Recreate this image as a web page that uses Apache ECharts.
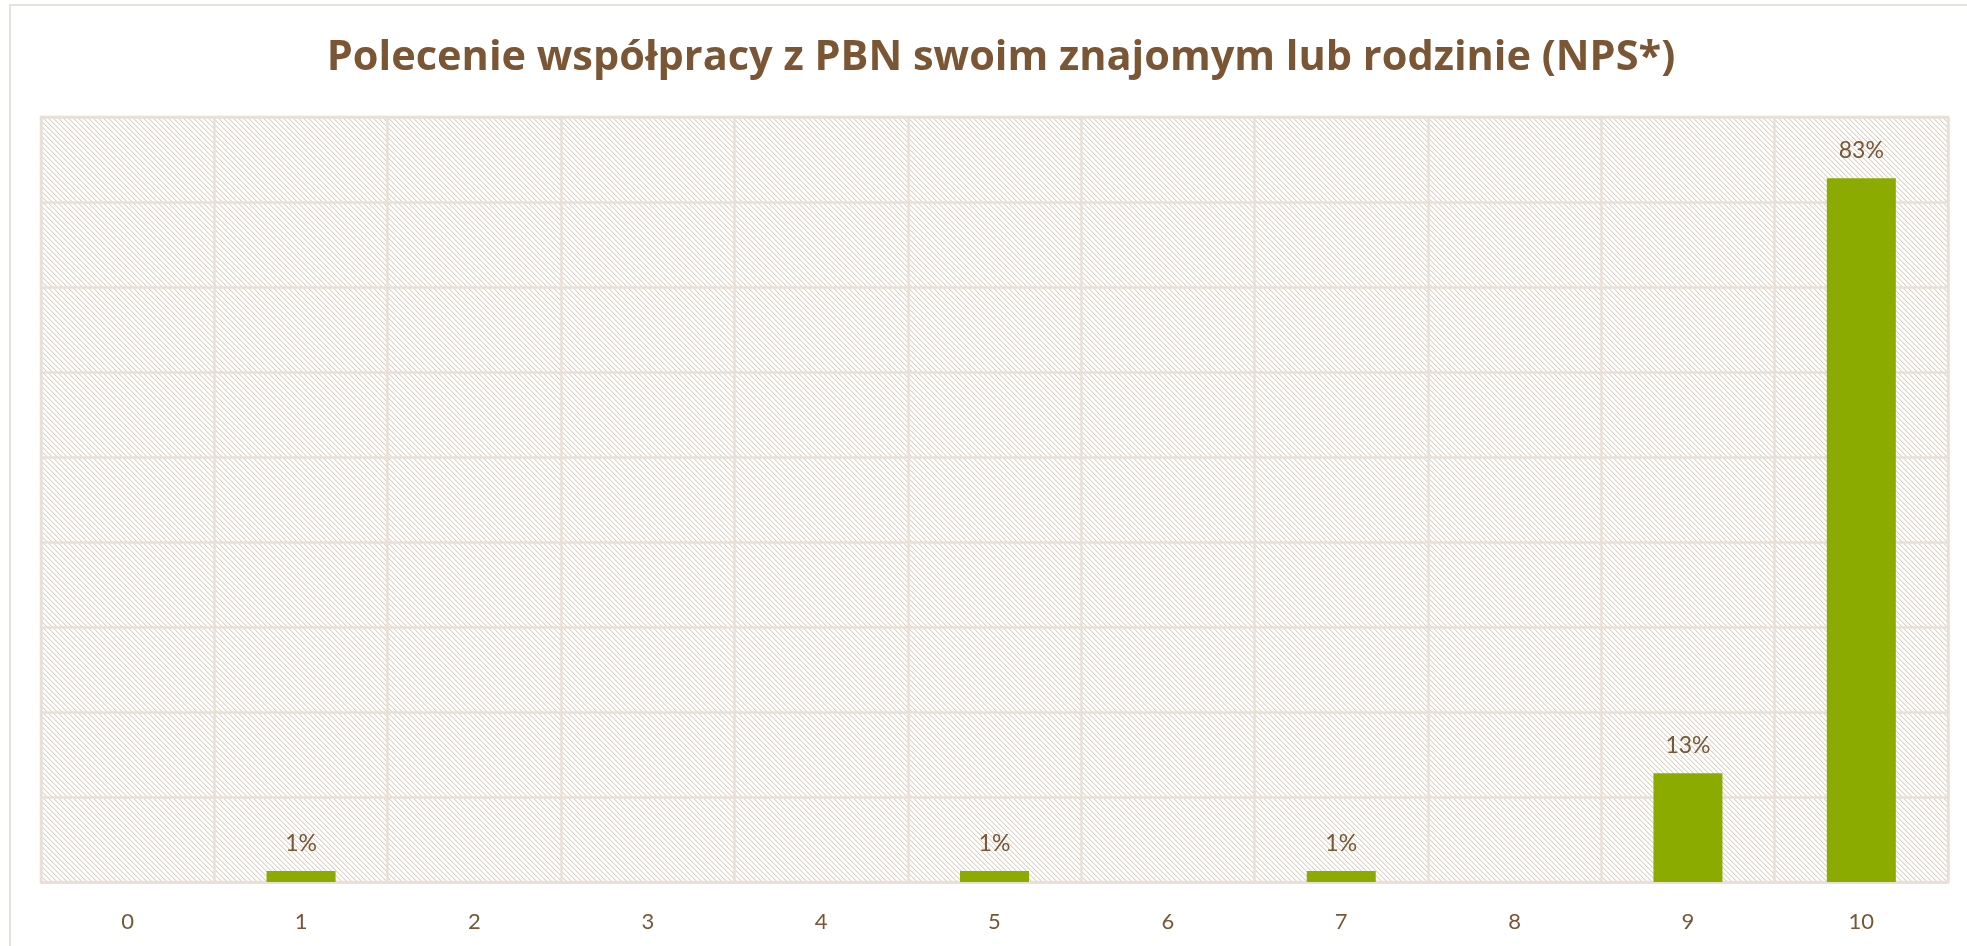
<!DOCTYPE html>
<html>
<head>
<meta charset="utf-8">
<script src="https://cdn.jsdelivr.net/npm/echarts@6/dist/echarts.min.js"></script>
<style>
  html, body { margin: 0; padding: 0; background: #fff; }
  #main { width: 1967px; height: 946px; }
</style>
</head>
<body>
<div id="main"></div>
<script>
// oceny 0-10 i procent odpowiedzi
const categories = ['0', '1', '2', '3', '4', '5', '6', '7', '8', '9', '10']
const values = [0, 1.3, 0, 0, 0, 1.3, 0, 1.3, 0, 12.8, 82.8]
const labels = ['', '1%', '', '', '', '1%', '', '1%', '', '13%', '83%']

const brown = '#7a5634'
const green = '#8cab00'
const gridLine = '#e8e0d7'

// tlo w ukosne paski
function makeHatch() {
  const n = 5
  const c = document.createElement('canvas')
  c.width = n
  c.height = n
  const ctx = c.getContext('2d')
  ctx.fillStyle = '#ffffff'
  ctx.fillRect(0, 0, n, n)
  for (let i = 0; i < n; i++) {
    ctx.fillStyle = '#ddd4c9'
    ctx.fillRect(i, i, 1, 1)
    ctx.fillStyle = '#f1ece6'
    ctx.fillRect((i + 1) % n, i, 1, 1)
  }
  return c
}

const chart = echarts.init(document.getElementById('main'), null, { renderer: 'canvas' })

const option = {
  backgroundColor: '#ffffff',
  animation: false,
  title: {
    text: 'Polecenie współpracy z PBN swoim znajomym lub rodzinie (NPS*)',
    left: 996,
    textAlign: 'center',
    top: 32,
    textStyle: {
      fontFamily: 'Open Sans',
      fontWeight: 'bold',
      fontSize: 41.5,
      color: brown
    }
  },
  graphic: [{
    type: 'rect',
    shape: { x: 10, y: 5, width: 1980, height: 960 },
    style: { fill: 'none', stroke: '#e8e2da', lineWidth: 2 },
    silent: true,
    z: -1
  }],
  grid: {
    left: 41,
    right: 19,
    top: 117,
    bottom: 64,
    show: true,
    backgroundColor: { image: makeHatch(), repeat: 'repeat' },
    borderColor: gridLine,
    borderWidth: 2.5
  },
  xAxis: {
    type: 'category',
    data: categories,
    axisLine: { show: true, lineStyle: { color: gridLine, width: 2.5 } },
    axisTick: { show: false },
    splitLine: { show: true, lineStyle: { color: gridLine, width: 2.5 } },
    axisLabel: {
      margin: 29,
      fontFamily: 'Lato',
      fontSize: 22,
      color: brown
    }
  },
  yAxis: {
    type: 'value',
    min: 0,
    max: 90,
    interval: 10,
    axisLabel: { show: false },
    axisLine: { show: false },
    axisTick: { show: false },
    splitLine: { show: true, lineStyle: { color: gridLine, width: 2.5 } }
  },
  series: [{
    type: 'bar',
    data: values,
    barWidth: 69,
    itemStyle: { color: green },
    label: {
      show: true,
      position: 'top',
      distance: 16,
      fontFamily: 'Lato',
      fontSize: 23,
      color: brown,
      formatter: function (p) {
        return labels[p.dataIndex]
      }
    }
  }]
}

chart.setOption(option)
</script>
</body>
</html>
